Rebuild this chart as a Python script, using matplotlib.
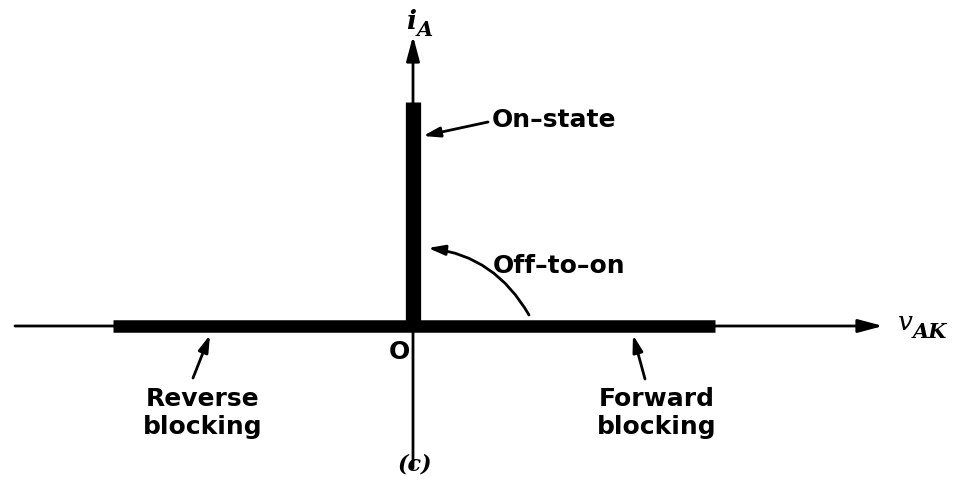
import matplotlib.pyplot as plt

# ideal thyristor characteristic (arbitrary units, origin at O)
reverse_v = [-300, 0]
reverse_i = [0, 0]
forward_v = [0, 302]
forward_i = [0, 0]
onstate_v = [0, 0]
onstate_i = [0, 224]

fig = plt.figure(figsize=(9.69, 4.85), dpi=100)
ax = fig.add_axes([0, 0, 1, 1])
ax.set_xlim(-413, 556)
ax.set_ylim(-158, 327)
ax.axis("off")

# axes with arrows
ax.annotate("", xy=(470, 0), xytext=(-398, 0),
            arrowprops=dict(arrowstyle="-|>,head_length=1.5,head_width=0.4",
                            color="black", lw=2, shrinkA=0, shrinkB=0))
ax.annotate("", xy=(0, 290), xytext=(0, -142),
            arrowprops=dict(arrowstyle="-|>,head_length=1.5,head_width=0.4",
                            color="black", lw=2, shrinkA=0, shrinkB=0))

# thick characteristic
ax.plot(reverse_v, reverse_i, color="black", lw=9, solid_capstyle="butt")
ax.plot(forward_v, forward_i, color="black", lw=9, solid_capstyle="butt")
ax.plot(onstate_v, onstate_i, color="black", lw=11, solid_capstyle="butt")

lab = dict(fontsize=18, fontweight="bold", family="DejaVu Sans", color="black")
arr = dict(arrowstyle="-|>,head_length=1.0,head_width=0.3", color="black",
           lw=2, shrinkA=0, shrinkB=0)

ax.text(79, 207, "On\u2013state", ha="left", va="center", **lab)
ax.annotate("", xy=(10, 190), xytext=(75, 204), arrowprops=arr)

ax.text(80, 61, "Off\u2013to\u2013on", ha="left", va="center", **lab)
ax.annotate("", xy=(15, 78), xytext=(116, 11),
            arrowprops=dict(arr, connectionstyle="arc3,rad=0.25"))

ax.text(-210, -86, "Reverse\nblocking", ha="center", va="center",
        linespacing=1.2, **lab)
ax.annotate("", xy=(-203, -9), xytext=(-220, -52), arrowprops=arr)

ax.text(244, -86, "Forward\nblocking", ha="center", va="center",
        linespacing=1.2, **lab)
ax.annotate("", xy=(220, -9), xytext=(232, -53), arrowprops=arr)

ax.text(-14, -25, "O", ha="center", va="center", **lab)

# axis labels
ax.text(-2, 306, "i", ha="center", va="center", fontsize=19,
        fontstyle="italic", fontweight="bold", family="DejaVu Serif")
ax.text(12, 297, "A", ha="center", va="center", fontsize=15,
        fontstyle="italic", fontweight="bold", family="DejaVu Serif")
ax.text(485, 5, "v", ha="left", va="center", fontsize=19,
        fontstyle="italic", family="DejaVu Serif")
ax.text(500, -5, "AK", ha="left", va="center", fontsize=15,
        fontstyle="italic", fontweight="bold", family="DejaVu Serif")
ax.text(2, -138, "(c)", ha="center", va="center", fontsize=16,
        fontstyle="italic", fontweight="bold", family="DejaVu Serif")

fig.savefig("out.png", dpi=100)
